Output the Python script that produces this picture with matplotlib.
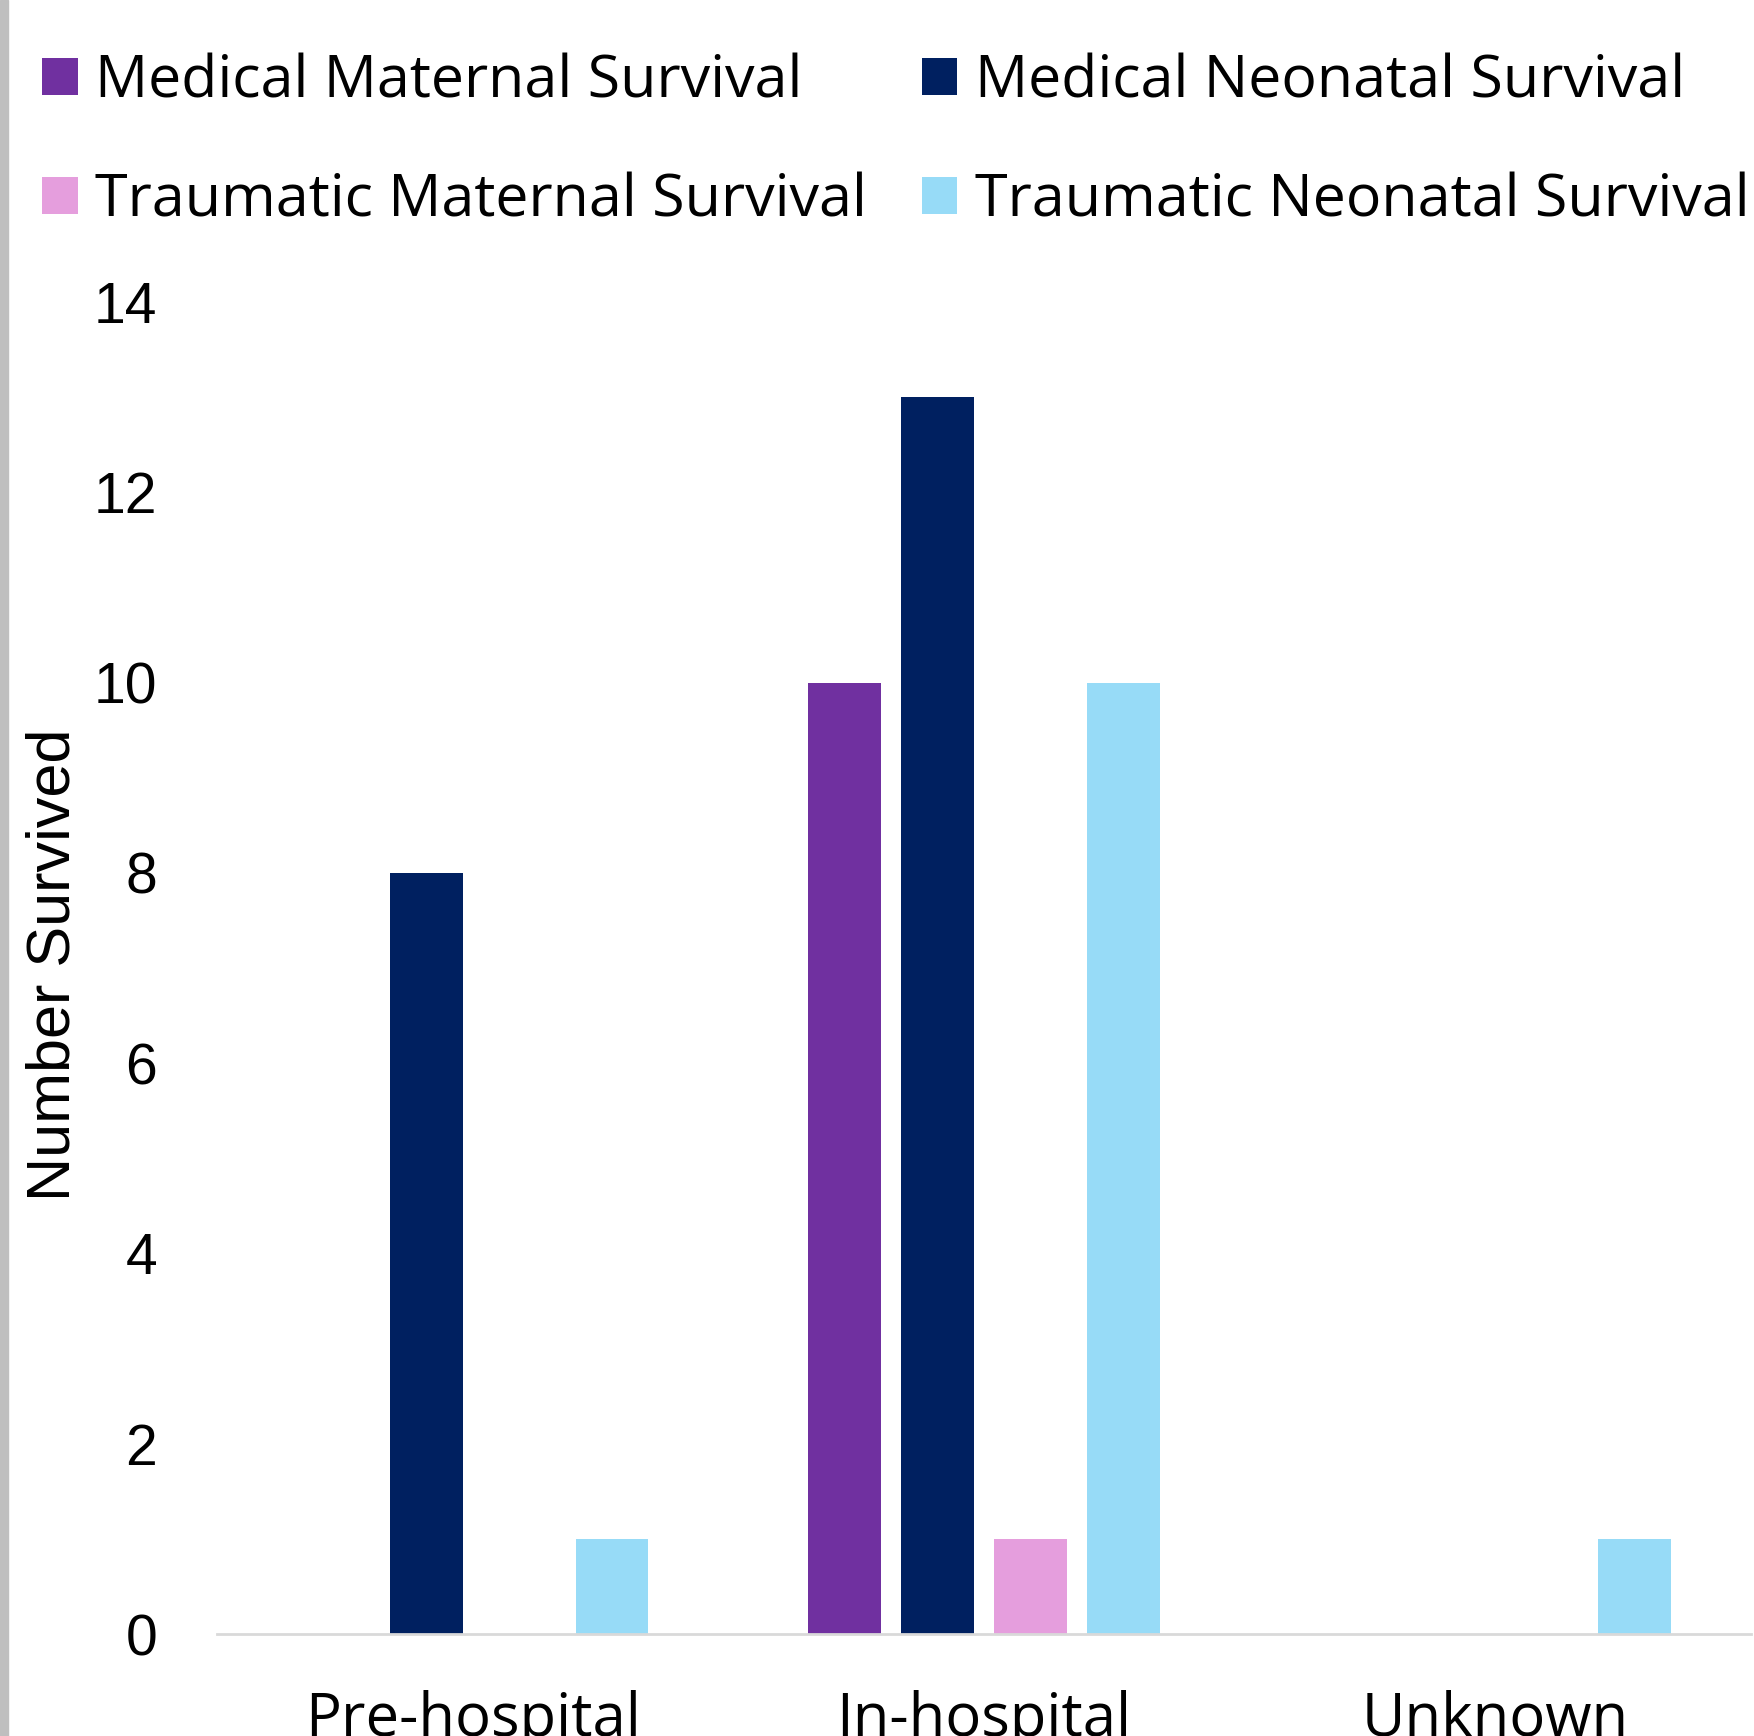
import matplotlib

matplotlib.use('Agg')
import matplotlib.pyplot as plt
from matplotlib.patches import Rectangle

plt.rcParams['font.family'] = ['Liberation Sans', 'DejaVu Sans']

# ── data ────────────────────────────────────────────────────────────────
CATEGORIES = ['Pre-hospital', 'In-hospital', 'Unknown']
SERIES = ['Medical Maternal Survival', 'Medical Neonatal Survival',
          'Traumatic Maternal Survival', 'Traumatic Neonatal Survival']
MED_MATERNAL = [0, 10, 0]
MED_NEONATAL = [8, 13, 0]
TRAUMA_MATERNAL = [0, 1, 0]
TRAUMA_NEONATAL = [1, 10, 1]
Y_TICKS = [0, 2, 4, 6, 8, 10, 12, 14]

COLORS = ['#7030a0', '#002060', '#e59edd', '#97dbf7']
WIDE = ['Open Sans', 'DejaVu Sans']  # stand-in for Aptos in legend / categories

W, H = 1754, 1736
fig = plt.figure(figsize=(W / 100, H / 100), dpi=100)
fig.patches.append(Rectangle((0, 0), 8 / W, 1, transform=fig.transFigure,
                             color='#bfbfbf', zorder=0))

ax = fig.add_axes([217 / W, (H - 1634) / H, (1751 - 217) / W, (1634 - 302) / H])

values = [MED_MATERNAL, MED_NEONATAL, TRAUMA_MATERNAL, TRAUMA_NEONATAL]
step, bar_w = 0.1816, 0.142
handles = []
for j, (name, ys) in enumerate(zip(SERIES, values)):
    xs = [i + (j - 1.5) * step for i in range(len(CATEGORIES))]
    handles.append(ax.bar(xs, ys, bar_w, color=COLORS[j], label=name, linewidth=0))

ax.set_xlim(-0.5, 2.5)
ax.set_ylim(0, 14)
ax.set_yticks(Y_TICKS)
ax.set_xticks(range(len(CATEGORIES)))
ax.set_xticklabels(CATEGORIES, family=WIDE, fontsize=43)
ax.tick_params(axis='y', length=0, pad=43, labelsize=41)
ax.tick_params(axis='x', length=0, pad=40)
for sp in ('top', 'right', 'left'):
    ax.spines[sp].set_visible(False)
ax.spines['bottom'].set_color('#d9d9d9')
ax.spines['bottom'].set_linewidth(2)

fig.text(54 / W, 1 - 965 / H, 'Number Survived', rotation=90, fontsize=44,
         ha='center', va='center')

# legend is filled column-wise, so interleave to get Medical on row 1
order = [0, 2, 1, 3]
fig.legend(handles=[handles[k] for k in order], labels=[SERIES[k] for k in order],
           ncol=2, loc='upper left', bbox_to_anchor=(42 / W, 1 - 53 / H),
           frameon=False, prop={'family': WIDE, 'size': 42.6},
           handlelength=0.6, handleheight=0.6, handletextpad=0.3,
           columnspacing=0.92, labelspacing=1.02, borderpad=0, borderaxespad=0)

fig.savefig('out.png', dpi=100)
